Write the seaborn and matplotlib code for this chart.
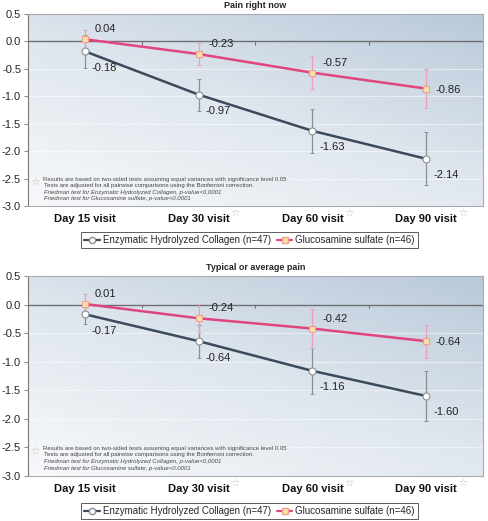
import numpy as np
import pandas as pd
import matplotlib
matplotlib.use("Agg")
import matplotlib.pyplot as plt
from matplotlib.lines import Line2D
from matplotlib.colors import LinearSegmentedColormap
import matplotlib.transforms as mtransforms
import seaborn as sns

# ---------------- data ----------------
visits = ["Day 15 visit", "Day 30 visit", "Day 60 visit", "Day 90 visit"]
starred = [False, True, True, True]
groups = ["Enzymatic Hydrolyzed Collagen (n=47)", "Glucosamine sulfate (n=46)"]

titles = ["Pain right now", "Typical or average pain"]

# Pain right now
now_collagen = [-0.18, -0.97, -1.63, -2.14]
now_collagen_err = [0.30, 0.29, 0.40, 0.48]
now_glucos = [0.04, -0.23, -0.57, -0.86]
now_glucos_err = [0.17, 0.20, 0.30, 0.35]

# Typical or average pain
avg_collagen = [-0.17, -0.64, -1.16, -1.60]
avg_collagen_err = [0.17, 0.29, 0.40, 0.43]
avg_glucos = [0.01, -0.24, -0.42, -0.64]
avg_glucos_err = [0.18, 0.25, 0.34, 0.29]

yticks = [0.5, 0.0, -0.5, -1.0, -1.5, -2.0, -2.5, -3.0]

note_lines = [
    "Results are based on two-sided tests assuming equal variances with significance level 0.05",
    "Tests are adjusted for all pairwise comparisons using the Bonferroni correction.",
    "Friedman test for Enzymatic Hydrolyzed Collagen, p-value<0,0001",
    "Friedman test for Glucosamine sulfate, p-value<0.0001",
]

# ---------------- style ----------------
sns.set_theme(style="white")
plt.rcParams["font.family"] = ["Liberation Sans", "DejaVu Sans"]

col_line = "#3b4a5c"
col_err1 = "#8a8f96"
gl_line = "#e0457e"
gl_err = "#eaa0b8"
gl_fill = "#fbe0a8"
gl_edge = "#f0a090"

panels = [
    (titles[0], now_collagen, now_collagen_err, now_glucos, now_glucos_err),
    (titles[1], avg_collagen, avg_collagen_err, avg_glucos, avg_glucos_err),
]

fig = plt.figure(figsize=(4.88, 5.21), dpi=100)
axes_rects = [
    [28 / 488, 1 - 206 / 521, 455 / 488, 192 / 521],
    [28 / 488, 1 - 476 / 521, 455 / 488, 200 / 521],
]

bg_cmap = LinearSegmentedColormap.from_list("bg", ["#f7f8fa", "#dfe6ee", "#b9c9d9"])

for rect, (title, c_vals, c_err, g_vals, g_err) in zip(axes_rects, panels):
    ax = fig.add_axes(rect)
    # gradient background
    gx, gy = np.meshgrid(np.linspace(0, 1, 200), np.linspace(0, 1, 200))
    grad = 0.55 * gx + 0.75 * gy
    ax.imshow(grad, extent=(-0.5, 3.5, -3.0, 0.5), origin="lower", aspect="auto",
              cmap=bg_cmap, zorder=0, interpolation="bilinear")

    df = pd.DataFrame({
        "visit": visits * 2,
        "pos": list(range(len(visits))) * 2,
        "value": c_vals + g_vals,
        "err": c_err + g_err,
        "group": [groups[0]] * len(visits) + [groups[1]] * len(visits),
    })

    # faint grid
    for yv in yticks[1:-1]:
        if yv != 0:
            ax.axhline(yv, color="white", lw=0.8, alpha=0.5, zorder=1)
    ax.axhline(0, color="#6d6f72", lw=1.0, zorder=2)
    ax.vlines([0.5, 1.5, 2.5], -0.06, 0.0, color="#6d6f72", lw=0.8, zorder=2)

    # error bars
    dc = df[df["group"] == groups[0]]
    dg = df[df["group"] == groups[1]]
    ax.errorbar(dc["pos"], dc["value"], yerr=dc["err"], fmt="none", ecolor=col_err1,
                elinewidth=0.9, capsize=1.5, capthick=0.7, zorder=3)
    ax.errorbar(dg["pos"], dg["value"], yerr=dg["err"], fmt="none", ecolor=gl_err,
                elinewidth=0.9, capsize=1.5, capthick=0.7, zorder=3)

    sns.lineplot(data=dc, x="pos", y="value", ax=ax, color=col_line, lw=1.8,
                 marker="o", markersize=5, markerfacecolor="white",
                 markeredgecolor="#8a8f96", markeredgewidth=0.8, legend=False, zorder=4)
    sns.lineplot(data=dg, x="pos", y="value", ax=ax, color=gl_line, lw=1.8,
                 marker="s", markersize=4.5, markerfacecolor=gl_fill,
                 markeredgecolor=gl_edge, markeredgewidth=0.8, legend=False, zorder=5)

    # value labels
    for p, v in zip(dc["pos"], dc["value"]):
        ax.annotate(f"{v:.2f}", (p, v), xytext=(5, -14), textcoords="offset points",
                    fontsize=8, color="#222222", zorder=6)
    for i, (p, v) in enumerate(zip(dg["pos"], dg["value"])):
        off = (7, 5) if i < len(visits) - 1 else (7, -3)
        ax.annotate(f"{v:.2f}", (p, v), xytext=off, textcoords="offset points",
                    fontsize=8, color="#222222", zorder=6)

    ax.set_xlim(-0.5, 3.5)
    ax.set_ylim(-3.0, 0.5)
    ax.set_yticks(yticks)
    ax.set_yticklabels([f"{t:.1f}" for t in yticks], fontsize=8)
    ax.set_xticks(range(len(visits)))
    ax.set_xticklabels(visits, fontsize=8, fontweight="bold", color="#111111")
    ax.tick_params(axis="x", length=0, pad=6)
    ax.tick_params(axis="y", length=3, width=0.6, color="#777777", pad=2, left=True)
    ax.set_xlabel("")
    ax.set_ylabel("")
    for s in ax.spines.values():
        s.set_color("#a8abb0")
        s.set_linewidth(0.8)
    ax.spines["left"].set_color("#777777")
    ax.set_title(title, fontsize=6.5, fontweight="bold", pad=4)

    # stars on x labels
    trans = mtransforms.blended_transform_factory(ax.transData, ax.transAxes)
    for i, s in enumerate(starred):
        if s:
            ax.annotate("\u2606", (i, 0), xycoords=trans, xytext=(23, -7),
                        textcoords="offset points", fontsize=7.5, color="#c8c2a0",
                        family=["DejaVu Sans"], annotation_clip=False)

    # note
    ax.text(0.005, 0.125, "\u2606", transform=ax.transAxes, fontsize=7.5,
            color="#c8c2a0", family=["DejaVu Sans"], va="center")
    for k, line in enumerate(note_lines):
        ax.text(0.033 + (0.0 if k == 0 else 0.002), 0.152 - k * 0.034, line,
                transform=ax.transAxes, fontsize=4.3, color="#444444",
                style="normal" if k < 2 else "italic", va="top")

    # legend
    handles = [
        Line2D([], [], color=col_line, lw=1.6, marker="o", markersize=4.5,
               markerfacecolor="white", markeredgecolor="#8a8f96"),
        Line2D([], [], color=gl_line, lw=1.6, marker="s", markersize=4.5,
               markerfacecolor=gl_fill, markeredgecolor=gl_edge),
    ]
    leg = ax.legend(handles, groups, loc="upper center", bbox_to_anchor=(0.487, -0.137),
                    ncol=2, fontsize=7.0, frameon=True, fancybox=False,
                    handlelength=1.6, handletextpad=0.3, columnspacing=0.6,
                    borderpad=0.3, borderaxespad=0)
    leg.get_frame().set_edgecolor("#333333")
    leg.get_frame().set_linewidth(0.7)

fig.savefig("out.png", dpi=100)
